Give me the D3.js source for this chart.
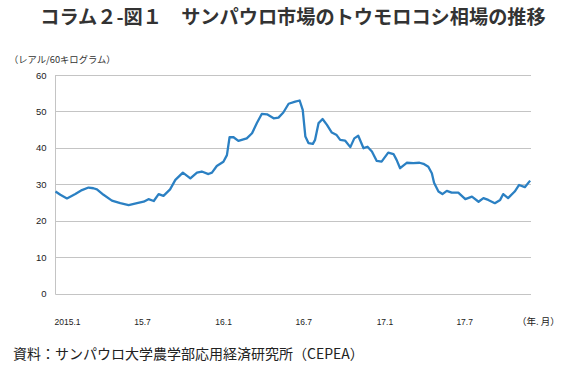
<!DOCTYPE html>
<html>
<head>
<meta charset="utf-8">
<script src="https://cdn.jsdelivr.net/npm/d3@7/dist/d3.min.js"></script>
<style>
  body { margin: 0; background: #fff; }
  svg { display: block; font-family: "Noto Sans CJK JP", "Noto Sans", sans-serif; }
</style>
</head>
<body>
<svg id="app" width="579" height="372"></svg>
<script>
// price readings (reais / 60kg)
const dates = [
  "2015-01-01","2015-01-12","2015-01-27","2015-02-15","2015-03-02","2015-03-17","2015-03-28","2015-04-05",
  "2015-04-20","2015-05-09","2015-05-28","2015-06-16","2015-07-05","2015-07-20","2015-07-31","2015-08-12",
  "2015-08-23","2015-09-03","2015-09-18","2015-09-30","2015-10-17","2015-11-03","2015-11-18","2015-11-29",
  "2015-12-14","2015-12-22","2016-01-02","2016-01-17","2016-01-25","2016-01-31","2016-02-09","2016-02-20",
  "2016-03-10","2016-03-22","2016-04-02","2016-04-13","2016-04-25","2016-05-10","2016-05-21","2016-06-01",
  "2016-06-13","2016-06-28","2016-07-08","2016-07-15","2016-07-21","2016-07-28","2016-08-07","2016-08-12",
  "2016-08-20","2016-08-29","2016-09-08","2016-09-19","2016-09-30","2016-10-08","2016-10-19","2016-10-31",
  "2016-11-09","2016-11-18","2016-11-30","2016-12-09","2016-12-19","2016-12-30","2017-01-10","2017-01-25",
  "2017-02-06","2017-02-13","2017-02-21","2017-03-08","2017-03-23","2017-04-06","2017-04-15","2017-04-26",
  "2017-05-04","2017-05-09","2017-05-19","2017-05-28","2017-06-07","2017-06-18","2017-07-03","2017-07-19",
  "2017-08-03","2017-08-18","2017-08-29","2017-09-09","2017-09-24","2017-10-06","2017-10-13","2017-10-24",
  "2017-11-08","2017-11-18","2017-12-01","2017-12-13"
];
const prices = [
  28.0, 27.1, 26.1, 27.3, 28.4, 29.1, 28.9, 28.6,
  27.1, 25.5, 24.8, 24.3, 24.8, 25.2, 25.9, 25.4,
  27.3, 26.8, 28.6, 31.2, 33.2, 31.6, 33.2, 33.5,
  32.8, 33.2, 35.0, 36.2, 38.0, 42.9, 42.9, 41.9,
  42.6, 44.0, 46.8, 49.3, 49.2, 48.1, 48.3, 49.7,
  52.1, 52.7, 53.0, 50.4, 43.1, 41.3, 41.1, 42.2,
  46.8, 47.9, 46.3, 44.2, 43.5, 42.2, 42.0, 40.2,
  42.6, 43.3, 39.9, 40.3, 39.0, 36.4, 36.2, 38.7,
  38.3, 36.7, 34.4, 35.9, 35.8, 35.9, 35.6, 34.8,
  33.0, 30.4, 28.0, 27.3, 28.2, 27.7, 27.7, 25.9,
  26.6, 25.2, 26.2, 25.7, 24.8, 25.7, 27.3, 26.2,
  28.0, 29.8, 29.2, 31.0
];
const yTicks = [0, 10, 20, 30, 40, 50, 60];
const xTickDates = ["2015-01-01","2015-07-01","2016-01-01","2016-07-01","2017-01-01","2017-07-01"];
const xTickLabels = ["2015.1","15.7","16.1","16.7","17.1","17.7"];

const parse = d3.timeParse("%Y-%m-%d");
const series = dates.map((d, i) => ({ date: parse(d), value: prices[i] }));

const svg = d3.select("#app");
const plotL = 55.5, plotR = 531, plotT = 75, plotB = 293.5;

const x = d3.scaleTime()
  .domain([parse("2015-01-01"), parse("2017-12-15")])
  .range([plotL, plotR]);
const y = d3.scaleLinear().domain([0, 60]).range([plotB, plotT]);

// title
svg.append("text")
  .attr("x", 293).attr("y", 24)
  .attr("text-anchor", "middle")
  .attr("font-size", 19.2).attr("font-weight", "bold").attr("fill", "#333")
  .text("コラム２-図１　サンパウロ市場のトウモロコシ相場の推移");

// unit
svg.append("text")
  .attr("x", 9).attr("y", 63)
  .attr("font-size", 9.3).attr("fill", "#333")
  .text("（レアル/60キログラム）");

// grid
svg.append("g")
  .selectAll("line")
  .data(yTicks)
  .join("line")
  .attr("x1", plotL).attr("x2", plotR)
  .attr("y1", d => Math.round(y(d)) + 0.5).attr("y2", d => Math.round(y(d)) + 0.5)
  .attr("stroke", "#c4c4c4").attr("stroke-width", 1);

svg.append("line")
  .attr("x1", plotL).attr("x2", plotL)
  .attr("y1", plotT).attr("y2", plotB + 1)
  .attr("stroke", "#c4c4c4");

// y axis labels
const yAxis = svg.append("g")
  .attr("transform", `translate(${plotL},0)`)
  .call(d3.axisLeft(y).tickValues(yTicks).tickSize(0).tickPadding(9));
yAxis.select(".domain").remove();
yAxis.selectAll("text").attr("font-size", 9.5).attr("fill", "#222")
  .attr("font-family", "Liberation Sans, Arial, sans-serif");

// x axis labels
svg.append("g")
  .selectAll("text")
  .data(xTickDates)
  .join("text")
  .attr("x", d => x(parse(d)) - 1)
  .attr("y", 325)
  .attr("font-size", 8.5).attr("fill", "#222")
  .attr("font-family", "Liberation Sans Narrow, Liberation Sans, sans-serif")
  .text((d, i) => xTickLabels[i]);

svg.append("text")
  .attr("x", 517).attr("y", 325)
  .attr("font-size", 9.5).attr("fill", "#222")
  .text("（年. 月）");

// line
const line = d3.line()
  .x(d => x(d.date))
  .y(d => y(d.value))
  .curve(d3.curveLinear);

svg.append("path")
  .datum(series)
  .attr("d", line)
  .attr("fill", "none")
  .attr("stroke", "#2b80c3")
  .attr("stroke-width", 2.3)
  .attr("stroke-linejoin", "round");

// source
svg.append("text")
  .attr("x", 13).attr("y", 359)
  .attr("font-size", 14).attr("fill", "#222")
  .text("資料：サンパウロ大学農学部応用経済研究所（CEPEA）");
</script>
</body>
</html>
